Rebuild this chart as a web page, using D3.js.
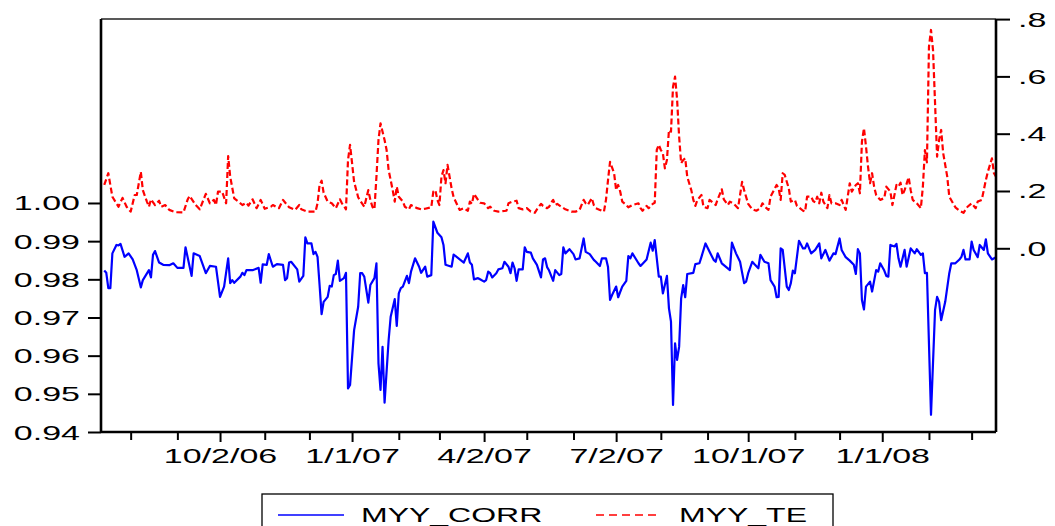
<!DOCTYPE html>
<html>
<head>
<meta charset="utf-8">
<script src="https://cdn.jsdelivr.net/npm/d3@7"></script>
<style>
  body { margin: 0; background: #fff; }
  svg { display: block; font-family: "Liberation Sans", Arial, sans-serif; }
</style>
</head>
<body>
<svg id="chart" width="1055" height="526"></svg>
<script>
// MYY_CORR (left axis) and MYY_TE (right axis), business-day series from 7/13/06

const startDate = new Date(2006, 6, 13);
const nDays = 440;

// business-day offsets and values
const corrDay = [0,1,2,3,4,6,7,8,10,12,14,16,18,19,22,23,24,25,27,29,32,34,36,39,40,43,44,47,50,52,55,57,59,61,62,63,64,67,68,69,70,73,76,77,78,80,81,83,85,88,89,90,91,92,95,96,98,99,100,102,103,104,105,106,107,108,110,111,112,113,114,115,116,118,119,120,121,123,125,126,127,128,130,131,133,134,135,136,137,138,140,141,143,144,145,146,147,149,150,151,153,155,156,158,159,161,162,164,166,167,168,171,172,175,177,179,180,181,182,184,185,187,188,189,190,191,193,194,196,197,199,200,201,202,203,204,206,207,208,210,211,213,215,216,217,218,219,221,222,224,225,226,227,229,231,232,234,236,237,239,241,242,244,245,247,248,249,250,252,253,255,257,258,259,260,263,264,267,269,270,271,273,274,275,277,278,279,280,281,282,283,284,285,286,287,290,291,293,294,296,298,300,301,302,304,308,309,311,313,315,316,317,319,320,322,323,325,327,328,330,331,332,333,334,336,337,338,339,340,342,344,345,346,348,350,352,353,355,357,359,360,362,363,365,367,369,370,371,372,373,374,375,377,378,380,381,382,384,385,386,387,389,390,391,392,394,395,397,399,400,402,403,404,405,407,409,410,411,412,414,416,417,419,421,422,423,424,426,427,428,430,431,433,434,435,437,439];
const corrVal = [0.9823,0.9817,0.9777,0.9777,0.9868,0.9890,0.9889,0.9893,0.9859,0.9868,0.9852,0.9824,0.9779,0.9798,0.9824,0.9805,0.9864,0.9874,0.9844,0.9838,0.9837,0.9842,0.9830,0.9830,0.9884,0.9809,0.9868,0.9861,0.9816,0.9835,0.9833,0.9754,0.9781,0.9855,0.9790,0.9798,0.9791,0.9807,0.9817,0.9811,0.9824,0.9824,0.9830,0.9791,0.9839,0.9838,0.9866,0.9833,0.9840,0.9838,0.9798,0.9803,0.9844,0.9846,0.9826,0.9794,0.9809,0.9910,0.9894,0.9894,0.9866,0.9872,0.9859,0.9785,0.9709,0.9741,0.9754,0.9783,0.9781,0.9811,0.9814,0.9849,0.9796,0.9803,0.9817,0.9514,0.9523,0.9667,0.9728,0.9816,0.9816,0.9807,0.9739,0.9785,0.9803,0.9842,0.9580,0.9510,0.9623,0.9477,0.9641,0.9702,0.9748,0.9678,0.9763,0.9777,0.9781,0.9809,0.9790,0.9820,0.9855,0.9833,0.9817,0.9833,0.9807,0.9811,0.9951,0.9922,0.9910,0.9890,0.9838,0.9833,0.9865,0.9852,0.9844,0.9868,0.9844,0.9838,0.9800,0.9803,0.9800,0.9794,0.9798,0.9820,0.9816,0.9805,0.9816,0.9826,0.9829,0.9846,0.9833,0.9816,0.9844,0.9829,0.9796,0.9826,0.9826,0.9884,0.9872,0.9870,0.9855,0.9838,0.9805,0.9852,0.9855,0.9832,0.9823,0.9796,0.9824,0.9811,0.9814,0.9884,0.9868,0.9879,0.9866,0.9852,0.9855,0.9907,0.9872,0.9866,0.9851,0.9846,0.9835,0.9855,0.9855,0.9832,0.9746,0.9759,0.9781,0.9753,0.9781,0.9796,0.9861,0.9855,0.9868,0.9842,0.9835,0.9852,0.9896,0.9875,0.9903,0.9807,0.9807,0.9763,0.9809,0.9724,0.9689,0.9471,0.9632,0.9589,0.9623,0.9750,0.9785,0.9753,0.9814,0.9817,0.9840,0.9842,0.9859,0.9894,0.9872,0.9851,0.9846,0.9868,0.9842,0.9824,0.9896,0.9868,0.9846,0.9790,0.9794,0.9816,0.9846,0.9840,0.9829,0.9864,0.9846,0.9842,0.9798,0.9781,0.9753,0.9754,0.9881,0.9877,0.9781,0.9772,0.9790,0.9823,0.9816,0.9901,0.9881,0.9881,0.9894,0.9868,0.9877,0.9894,0.9855,0.9877,0.9849,0.9868,0.9866,0.9907,0.9877,0.9858,0.9849,0.9838,0.9814,0.9879,0.9868,0.9746,0.9721,0.9781,0.9794,0.9768,0.9824,0.9820,0.9842,0.9823,0.9809,0.9807,0.9890,0.9886,0.9893,0.9855,0.9833,0.9877,0.9833,0.9881,0.9868,0.9879,0.9864,0.9868,0.9816,0.9817,0.9445,0.9720,0.9754,0.9741,0.9693,0.9741,0.9816,0.9842,0.9842,0.9852,0.9859,0.9877,0.9852,0.9852,0.9899,0.9877,0.9858,0.9890,0.9877,0.9905,0.9868,0.9852,0.9858];

const teDay = [0,2,4,7,9,11,13,15,16,18,19,21,22,23,25,27,28,30,32,35,39,41,42,45,47,50,52,54,55,56,58,60,61,62,64,66,68,70,71,73,75,77,79,82,83,85,86,88,90,91,94,96,97,100,104,105,106,107,108,110,112,114,116,117,118,119,120,121,122,123,125,126,128,129,130,131,132,133,134,135,136,138,139,140,142,143,144,145,147,148,150,151,154,156,158,161,162,163,164,165,166,167,168,169,170,171,172,174,175,177,179,180,181,182,184,185,187,189,190,192,194,198,199,201,203,204,206,208,210,212,213,215,216,218,219,220,221,222,223,225,227,230,232,234,236,237,238,240,241,242,244,246,247,248,249,251,252,253,254,255,257,258,260,263,264,265,267,268,270,271,272,273,274,275,276,277,278,279,280,281,282,283,284,285,286,287,289,290,291,292,294,295,297,298,300,301,302,304,305,307,308,310,312,314,315,317,319,321,323,324,326,327,328,331,332,333,334,335,337,338,340,341,344,345,346,348,349,350,351,352,353,354,356,357,358,360,362,363,365,366,367,368,370,371,372,373,374,375,376,377,378,379,380,382,384,385,387,388,390,391,392,393,394,396,397,398,400,402,403,404,405,406,407,408,409,410,411,412,413,415,416,419,421,423,425,427,429,430,432,434,435,437,438,439];
const teVal = [0.221,0.262,0.180,0.145,0.176,0.145,0.128,0.186,0.186,0.267,0.203,0.163,0.145,0.171,0.151,0.166,0.145,0.151,0.134,0.126,0.125,0.169,0.183,0.151,0.136,0.190,0.157,0.169,0.151,0.198,0.198,0.157,0.322,0.250,0.174,0.163,0.151,0.159,0.149,0.171,0.140,0.169,0.138,0.145,0.151,0.143,0.140,0.169,0.151,0.143,0.134,0.151,0.136,0.128,0.128,0.157,0.221,0.236,0.194,0.163,0.157,0.140,0.171,0.157,0.148,0.136,0.308,0.361,0.297,0.232,0.178,0.166,0.145,0.175,0.203,0.169,0.145,0.136,0.250,0.378,0.436,0.378,0.343,0.273,0.203,0.163,0.215,0.180,0.163,0.145,0.136,0.151,0.140,0.136,0.138,0.143,0.198,0.203,0.169,0.151,0.250,0.273,0.227,0.291,0.250,0.209,0.178,0.148,0.134,0.140,0.131,0.163,0.155,0.190,0.169,0.159,0.157,0.140,0.145,0.131,0.128,0.131,0.157,0.163,0.166,0.140,0.136,0.140,0.128,0.124,0.136,0.155,0.148,0.140,0.145,0.159,0.169,0.151,0.155,0.145,0.136,0.128,0.128,0.134,0.169,0.157,0.151,0.175,0.151,0.140,0.134,0.128,0.169,0.238,0.302,0.262,0.203,0.221,0.198,0.163,0.151,0.143,0.151,0.157,0.140,0.131,0.148,0.140,0.155,0.159,0.343,0.361,0.343,0.332,0.279,0.308,0.413,0.407,0.564,0.599,0.520,0.390,0.297,0.308,0.314,0.250,0.203,0.169,0.148,0.169,0.186,0.145,0.140,0.169,0.157,0.151,0.171,0.206,0.171,0.151,0.163,0.155,0.140,0.232,0.203,0.155,0.136,0.131,0.140,0.157,0.140,0.134,0.180,0.221,0.209,0.169,0.262,0.256,0.209,0.163,0.169,0.148,0.131,0.128,0.180,0.180,0.165,0.160,0.180,0.157,0.194,0.163,0.140,0.186,0.157,0.157,0.151,0.169,0.134,0.180,0.227,0.198,0.221,0.227,0.192,0.372,0.419,0.355,0.285,0.227,0.262,0.215,0.186,0.169,0.175,0.215,0.198,0.151,0.221,0.215,0.229,0.186,0.203,0.248,0.203,0.169,0.157,0.140,0.215,0.343,0.300,0.704,0.762,0.692,0.506,0.320,0.378,0.413,0.332,0.250,0.180,0.143,0.131,0.124,0.145,0.157,0.140,0.163,0.169,0.238,0.267,0.314,0.262,0.250];

const corrTicks = [0.94, 0.95, 0.96, 0.97, 0.98, 0.99, 1.00];
const teTicks = [0, 0.2, 0.4, 0.6, 0.8];
const quarterMonths = [0, 3, 6, 9];   // labelled month ticks
const seriesNames = ['MYY_CORR', 'MYY_TE'];

// layout
const W = 1055, H = 526;
const plot = { left: 101, right: 996, top: 19, bottom: 432 };
const stretchTick = 1.7, stretchLegend = 1.6;

const svg = d3.select('#chart');
svg.append('rect').attr('width', W).attr('height', H).attr('fill', '#fff');

// weekday calendar, EViews 5-day style
const days = [];
for (let d = startDate; days.length < nDays; d = d3.timeDay.offset(d, 1)) {
  if (d.getDay() !== 0 && d.getDay() !== 6) days.push(d);
}
const monthStarts = d3.range(1, nDays).filter(i => days[i].getMonth() !== days[i - 1].getMonth());
const major = monthStarts.filter(i => quarterMonths.includes(days[i].getMonth()));
const minor = monthStarts.filter(i => !major.includes(i));

const x = d3.scaleLinear().domain([-1.6, nDays - 1]).range([plot.left, plot.right]);
const yL = d3.scaleLinear().domain([0.94, 1.0482]).range([plot.bottom, plot.top]);
const yR = d3.scaleLinear().domain([-0.6412, 0.8003]).range([plot.bottom, plot.top]);

const corr = corrDay.map((d, i) => ({ day: d, v: corrVal[i] }));
const te = teDay.map((d, i) => ({ day: d, v: teVal[i] }));

// lines
svg.append('path')
  .datum(corr)
  .attr('fill', 'none')
  .attr('stroke', '#0000ff')
  .attr('stroke-width', 2.2)
  .attr('stroke-linejoin', 'round')
  .attr('d', d3.line().x(d => x(d.day)).y(d => yL(d.v)));

svg.append('path')
  .datum(te)
  .attr('fill', 'none')
  .attr('stroke', '#ff0000')
  .attr('stroke-width', 2.2)
  .attr('stroke-dasharray', '6,3')
  .attr('stroke-linejoin', 'round')
  .attr('d', d3.line().x(d => x(d.day)).y(d => yR(d.v)));

function styleAxis(g) {
  g.attr('font-family', null).attr('font-size', null);
  g.select('.domain').remove();
  g.selectAll('.tick line').attr('stroke', '#000').attr('stroke-width', 2);
  g.selectAll('.tick text').attr('fill', '#000').attr('font-size', 20).attr('x', null).attr('y', null).attr('dy', null);
}

// left axis
const gL = svg.append('g').attr('transform', `translate(${plot.left},0)`)
  .call(d3.axisLeft(yL).tickValues(corrTicks).tickFormat(d3.format('.2f')).tickSize(13));
styleAxis(gL);
gL.selectAll('.tick text').attr('text-anchor', 'end').attr('transform', `translate(-21,7) scale(${stretchTick},1)`);

// right axis
const fmtR = d => d3.format('.1f')(d).replace(/^0/, '');
const gR = svg.append('g').attr('transform', `translate(${plot.right},0)`)
  .call(d3.axisRight(yR).tickValues(teTicks).tickFormat(fmtR).tickSize(14));
styleAxis(gR);
gR.selectAll('.tick text').attr('text-anchor', 'start').attr('transform', `translate(22,7) scale(${stretchTick},1)`);

// bottom axis: minor month ticks, then labelled quarter ticks
const gXm = svg.append('g').attr('transform', `translate(0,${plot.bottom})`)
  .call(d3.axisBottom(x).tickValues(minor).tickFormat('').tickSize(8));
styleAxis(gXm);

const fmtDate = d3.timeFormat('%-m/%-d/%y');
const gX = svg.append('g').attr('transform', `translate(0,${plot.bottom})`)
  .call(d3.axisBottom(x).tickValues(major).tickFormat(i => fmtDate(days[i])).tickSize(10));
styleAxis(gX);
gX.selectAll('.tick text').attr('text-anchor', 'middle').attr('transform', `translate(0,31) scale(${stretchTick},1)`);

// frame
svg.append('line').attr('x1', plot.left).attr('x2', plot.right).attr('y1', plot.top).attr('y2', plot.top)
  .attr('stroke', '#222').attr('stroke-width', 1.6);
svg.append('line').attr('x1', plot.left).attr('x2', plot.right).attr('y1', plot.bottom).attr('y2', plot.bottom)
  .attr('stroke', '#000').attr('stroke-width', 2.4);
svg.append('line').attr('x1', plot.left).attr('x2', plot.left).attr('y1', plot.top).attr('y2', plot.bottom)
  .attr('stroke', '#000').attr('stroke-width', 2.6);
svg.append('line').attr('x1', plot.right).attr('x2', plot.right).attr('y1', plot.top).attr('y2', plot.bottom)
  .attr('stroke', '#000').attr('stroke-width', 2.6);

// legend
const leg = svg.append('g');
leg.append('rect').attr('x', 262).attr('y', 494).attr('width', 571).attr('height', 50)
  .attr('fill', 'none').attr('stroke', '#000').attr('stroke-width', 1.3);

const legItems = [
  { name: seriesNames[0], color: '#0000ff', dash: null, x0: 278, x1: 344, tx: 361 },
  { name: seriesNames[1], color: '#ff0000', dash: '8,5', x0: 596, x1: 661, tx: 679 }
];
legItems.forEach(it => {
  leg.append('line').attr('x1', it.x0).attr('x2', it.x1).attr('y1', 515).attr('y2', 515)
    .attr('stroke', it.color).attr('stroke-width', 1.5).attr('stroke-dasharray', it.dash);
  leg.append('text').attr('font-size', 20).attr('fill', '#000')
    .attr('transform', `translate(${it.tx},522) scale(${stretchLegend},1)`)
    .text(it.name);
});
</script>
</body>
</html>
